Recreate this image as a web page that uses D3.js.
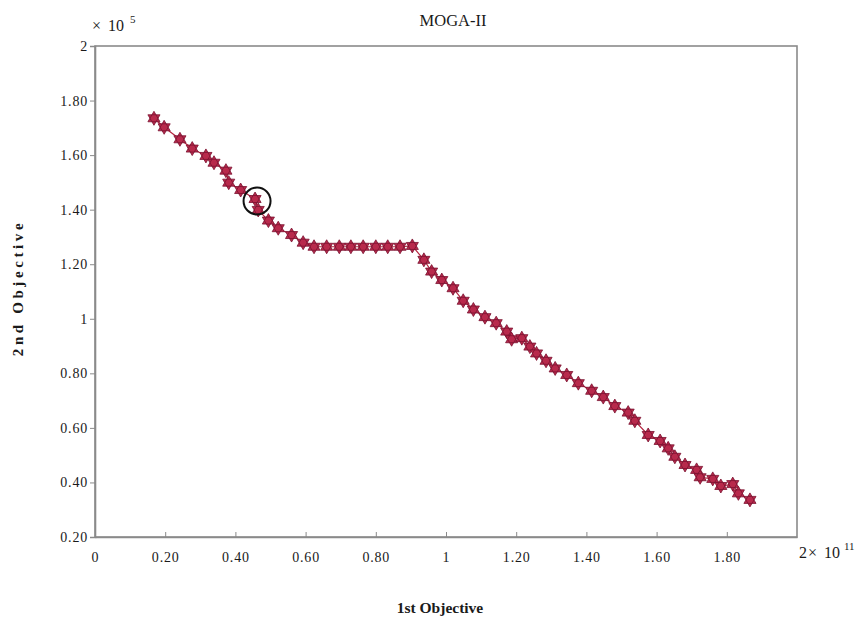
<!DOCTYPE html>
<html>
<head>
<meta charset="utf-8">
<script src="https://cdn.jsdelivr.net/npm/d3@7"></script>
<style>
  body { margin: 0; background: #fff; }
  text { font-family: "Liberation Serif", "Times New Roman", serif; fill: #1a1a1a; }
</style>
</head>
<body>
<svg id="chart" width="858" height="619"></svg>
<script>
// 1st objective (x 1e11) and 2nd objective (x 1e5)
let obj1 = [0.168, 0.197, 0.242, 0.277, 0.316, 0.339, 0.373, 0.381, 0.415, 0.456,
    0.465, 0.494, 0.522, 0.560, 0.593, 0.624, 0.660, 0.696, 0.729, 0.764,
    0.800, 0.834, 0.869, 0.904, 0.937, 0.959, 0.988, 1.020, 1.049, 1.078,
    1.111, 1.143, 1.173, 1.187, 1.216, 1.239, 1.258, 1.285, 1.311, 1.344,
    1.377, 1.415, 1.448, 1.481, 1.519, 1.538, 1.576, 1.610, 1.633, 1.652,
    1.681, 1.714, 1.724, 1.760, 1.783, 1.817, 1.833, 1.866];
let obj2 = [1.735, 1.702, 1.658, 1.624, 1.597, 1.572, 1.543, 1.499, 1.472, 1.439,
    1.399, 1.360, 1.332, 1.307, 1.279, 1.264, 1.264, 1.264, 1.264, 1.264,
    1.264, 1.264, 1.264, 1.267, 1.216, 1.173, 1.142, 1.112, 1.066, 1.034,
    1.006, 0.984, 0.953, 0.925, 0.929, 0.898, 0.873, 0.846, 0.818, 0.794,
    0.764, 0.736, 0.713, 0.680, 0.656, 0.626, 0.574, 0.552, 0.525, 0.494,
    0.464, 0.446, 0.419, 0.413, 0.387, 0.394, 0.360, 0.336];

let xTicks = [0, 0.2, 0.4, 0.6, 0.8, 1, 1.2, 1.4, 1.6, 1.8];
let yTicks = [0.2, 0.4, 0.6, 0.8, 1, 1.2, 1.4, 1.6, 1.8, 2];
let highlighted = 9; // the circled solution

let svg = d3.select('#chart');
let margin = { left: 95, top: 46, right: 61, bottom: 82 };
let width = 858 - margin.left - margin.right;
let height = 619 - margin.top - margin.bottom;

let x = d3.scaleLinear().domain([0, 2]).range([margin.left, margin.left + width]);
let y = d3.scaleLinear().domain([0.2, 2]).range([margin.top + height, margin.top]);

function fmt(d) {
    return (d === 0 || d === 1 || d === 2) ? String(d) : d.toFixed(2);
}

let axisColor = '#8a8a8a';

// frame
svg.append('rect')
    .attr('x', x(0)).attr('y', y(2))
    .attr('width', x(2) - x(0)).attr('height', y(0.2) - y(2))
    .attr('fill', 'none')
    .attr('stroke', axisColor)
    .attr('stroke-width', 1.6);

// x axis, ticks point inward
let xAxis = svg.append('g')
    .attr('transform', `translate(0,${y(0.2)})`)
    .call(d3.axisBottom(x).tickValues(xTicks).tickSizeInner(-5).tickSizeOuter(0).tickFormat(fmt));
xAxis.select('.domain').attr('stroke', axisColor).attr('stroke-width', 1.6);
xAxis.selectAll('.tick line').attr('stroke', axisColor);
xAxis.selectAll('.tick text')
    .attr('y', 15)
    .style('font-size', '14px')
    .style('letter-spacing', '0.8px')
    .style('font-family', '"Liberation Serif", serif')
    .attr('fill', '#1a1a1a');

// y axis, ticks point outward
let yAxis = svg.append('g')
    .attr('transform', `translate(${x(0)},0)`)
    .call(d3.axisLeft(y).tickValues(yTicks).tickSize(5).tickFormat(fmt));
yAxis.select('.domain').attr('stroke', axisColor).attr('stroke-width', 1.6);
yAxis.selectAll('.tick line').attr('stroke', axisColor);
yAxis.selectAll('.tick text')
    .attr('x', -7)
    .style('font-size', '14px')
    .style('letter-spacing', '0.8px')
    .style('font-family', '"Liberation Serif", serif')
    .attr('fill', '#1a1a1a');
yAxis.selectAll('.tick').filter(d => d === 2).select('line').remove();

// connecting line
let points = obj1.map((v, i) => [v, obj2[i]]);
svg.append('path')
    .datum(points)
    .attr('fill', 'none')
    .attr('stroke', '#b4243f')
    .attr('stroke-width', 1.2)
    .attr('d', d3.line().x(d => x(d[0])).y(d => y(d[1])));

// hexagram markers
function hexagram(r) {
    let tri = a => d3.range(3).map(k => {
        let t = a + k * 2 * Math.PI / 3;
        return [r * Math.sin(t), -r * Math.cos(t)];
    });
    let line = d3.line().curve(d3.curveLinearClosed);
    return line(tri(0)) + line(tri(Math.PI));
}

svg.append('g')
    .selectAll('path')
    .data(points)
    .join('path')
    .attr('transform', d => `translate(${x(d[0])},${y(d[1])})`)
    .attr('d', hexagram(7))
    .attr('fill', '#b82a4c')
    .attr('stroke', '#7a1230')
    .attr('stroke-width', 0.8);

// circled solution
svg.append('circle')
    .attr('cx', x(obj1[highlighted]) + 2)
    .attr('cy', y(obj2[highlighted]) + 2)
    .attr('r', 13.5)
    .attr('fill', 'none')
    .attr('stroke', '#111')
    .attr('stroke-width', 2);

// title
svg.append('text')
    .attr('x', 453).attr('y', 26)
    .attr('text-anchor', 'middle')
    .style('font-size', '16.5px')
    .text('MOGA-II');

// axis labels
svg.append('text')
    .attr('x', 440).attr('y', 613)
    .attr('text-anchor', 'middle')
    .style('font-size', '15.5px')
    .style('font-weight', 'bold')
    .text('1st Objective');

svg.append('text')
    .attr('transform', 'translate(23,288) rotate(-90)')
    .attr('text-anchor', 'middle')
    .style('font-size', '15px')
    .style('font-weight', 'bold')
    .style('letter-spacing', '3.6px')
    .text('2nd Objective');

// exponent labels
let yExp = svg.append('text')
    .attr('x', 92).attr('y', 31)
    .style('font-size', '16px');
yExp.append('tspan').text('×');
yExp.append('tspan').attr('dx', 7).text('10');
yExp.append('tspan').attr('dx', 6).attr('dy', -8).style('font-size', '11px').text('5');

let xExp = svg.append('text')
    .attr('x', 799).attr('y', 558)
    .style('font-size', '16px');
xExp.append('tspan').text('2');
xExp.append('tspan').attr('dx', 1).text('×');
xExp.append('tspan').attr('dx', 7).text('10');
xExp.append('tspan').attr('dx', 4).attr('dy', -8).style('font-size', '11px').text('11');
</script>
</body>
</html>
